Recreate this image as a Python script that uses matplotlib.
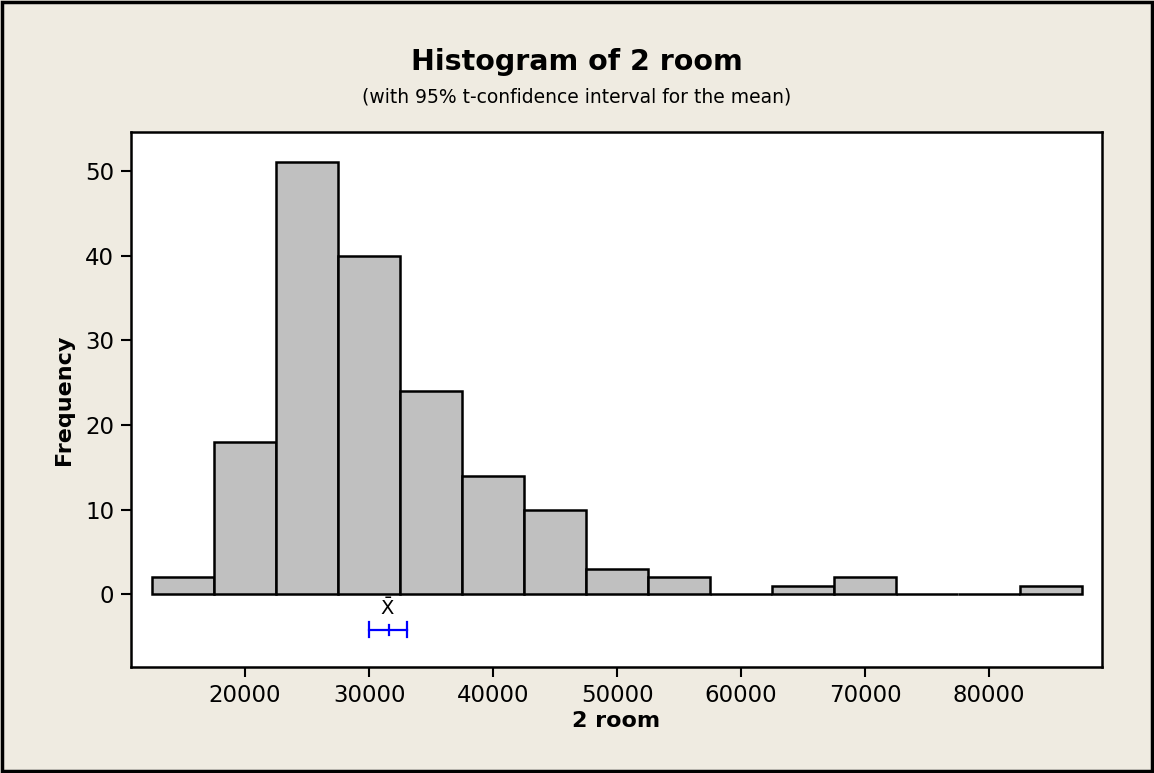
import matplotlib.pyplot as plt
from matplotlib.patches import Rectangle

# histogram bins (midpoints) and counts
bin_mids = [15000, 20000, 25000, 30000, 35000, 40000, 45000, 50000,
            55000, 60000, 65000, 70000, 75000, 80000, 85000]
counts = [2, 18, 51, 40, 24, 14, 10, 3, 2, 0, 1, 2, 0, 0, 1]
bin_width = 5000

# 95% t-confidence interval for the mean
ci_low = 30000
ci_mean = 31600
ci_high = 33050

plt.rcParams['font.family'] = ['DejaVu Sans']

fig = plt.figure(figsize=(11.54, 7.73), dpi=100)
fig.patch.set_facecolor('#efebe1')
fig.patches.append(Rectangle((0.002, 0.002), 0.996, 0.995, transform=fig.transFigure,
                             fill=False, edgecolor='black', linewidth=2.5))

ax = fig.add_axes([131 / 1154, 1 - 667 / 773, (1102 - 131) / 1154, (667 - 132) / 773])
ax.bar(bin_mids, counts, width=bin_width, color='#c0c0c0', edgecolor='black', linewidth=1.8)

# CI bar
ax.plot([ci_low, ci_high], [-4.2, -4.2], color='blue', lw=1.6)
ax.plot([ci_low, ci_low], [-5.1, -3.3], color='blue', lw=1.6)
ax.plot([ci_high, ci_high], [-5.1, -3.3], color='blue', lw=1.6)
ax.plot([ci_mean, ci_mean], [-4.8, -3.6], color='blue', lw=1.6)
ax.text(ci_mean - 150, -1.6, r'$\bar{\mathrm{X}}$', ha='center', va='center', fontsize=14)

ax.set_xlim(10800, 89100)
ax.set_ylim(-8.6, 54.6)
ax.set_xticks([20000, 30000, 40000, 50000, 60000, 70000, 80000])
ax.set_yticks([0, 10, 20, 30, 40, 50])
ax.tick_params(direction='out', length=7, width=1.5, labelsize=16.5, pad=5)
for s in ax.spines.values():
    s.set_linewidth(1.8)

ax.set_xlabel('2 room', fontsize=16, fontweight='bold', labelpad=3)
ax.set_ylabel('Frequency', fontsize=16, fontweight='bold', labelpad=8)

fig.text(0.5, 1 - 62 / 773, 'Histogram of 2 room', ha='center', va='center',
         fontsize=20.5, fontweight='bold')
fig.text(0.5, 1 - 97 / 773, '(with 95% t-confidence interval for the mean)', ha='center',
         va='center', fontsize=13.5)

fig.savefig('out.png', dpi=100, facecolor=fig.get_facecolor())
